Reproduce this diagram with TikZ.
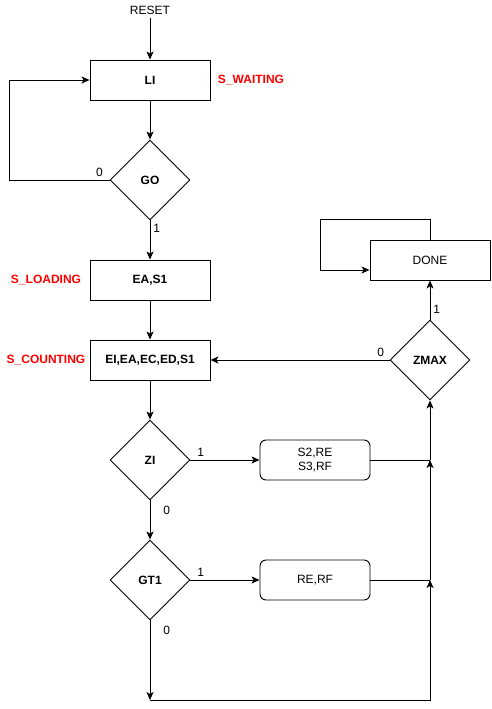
\documentclass[tikz,border=0pt]{standalone}
\usepackage{fontspec}
\setmainfont{Liberation Sans}
\usetikzlibrary{shapes.geometric, arrows.meta}
\newcommand{\chartfont}{\fontsize{12}{14}\selectfont}

\begin{document}
\begin{tikzpicture}[
        x=1pt, y=-1pt, % координаты в пикселях, ось y вниз
        line width=0.9pt,
        flow/.style = {-{Stealth[length=8pt, width=7pt, inset=2pt]}}, % стрелки переходов
        state/.style={rectangle, draw, minimum width=120pt, minimum height=40pt, font=\chartfont\bfseries}, % состояния
        act/.style={rectangle, rounded corners=6pt, draw, minimum width=110pt, minimum height=40pt, align=center, font=\chartfont},
        cond/.style={diamond, draw, aspect=1, minimum width=80pt, minimum height=80pt, inner sep=0pt, font=\chartfont\bfseries}, % условия
        tag/.style={text=red, font=\chartfont\bfseries},
        lbl/.style={font=\chartfont, inner sep=3pt},
    ]
    \useasboundingbox (0,0) rectangle (491,709);

    \node[lbl] (reset) at (150,10) {RESET};
    \node[state] (li) at (150,80) {LI};
    \node[tag] (waiting) at (251,80) {S\_WAITING};
    \node[cond] (go) at (150,180) {GO};
    \node[state] (ea) at (150,280) {EA,S1};
    \node[tag] (loading) at (46,280) {S\_LOADING};
    \node[state] (cnt) at (150,360) {EI,EA,EC,ED,S1};
    \node[tag] (counting) at (46,360) {S\_COUNTING};
    \node[cond] (zi) at (150,460) {ZI};
    \node[act] (setrs) at (315,460) {S2,RE\\S3,RF};
    \node[cond] (gt) at (150,580) {GT1};
    \node[act] (rerf) at (315,580) {RE,RF};
    \node[cond] (zmax) at (430,360) {ZMAX};
    \node[state, font=\chartfont] (done) at (430,260) {DONE};

    \coordinate (bl) at (150,700);
    \coordinate (br) at (430,700);
    \coordinate (j2) at (430,580);
    \coordinate (j1) at (430,460);

    \draw[flow] (reset) -- (li);
    \draw[flow] (li) -- (go);
    \draw[flow] (go.west) -- node[lbl, pos=0.1, above] {0} ++(-100,0) |- (li.west);
    \draw[flow] (go.south) -- node[lbl, pos=0.2, right] {1} (ea.north);
    \draw[flow] (ea) -- (cnt);
    \draw[flow] (cnt) -- (zi);
    \draw[flow] (zi.east) -- node[lbl, pos=0.15, above] {1} (setrs.west);
    \draw[flow] (zi.south) -- node[lbl, pos=0.25, right=10pt] {0} (gt.north);
    \draw[flow] (gt.east) -- node[lbl, pos=0.15, above] {1} (rerf.west);
    \draw[flow] (gt.south) -- node[lbl, pos=0.12, right=10pt] {0} (bl);
    \draw[flow] (bl) -- (br) -- (j2);
    \draw (rerf.east) -- (j2);
    \draw[flow] (j2) -- (j1);
    \draw (setrs.east) -- (j1);
    \draw[flow] (j1) -- (zmax.south);
    \draw[flow] (zmax.west) -- node[lbl, pos=0.05, above] {0} (cnt.east);
    \draw[flow] (zmax.north) -- node[lbl, pos=0.25, right] {1} (done.south);
    \draw[flow] (done.north) -- ++(0,-20) -- ++(-110,0) |- ([yshift=-10pt]done.west);

\end{tikzpicture}
\end{document}
